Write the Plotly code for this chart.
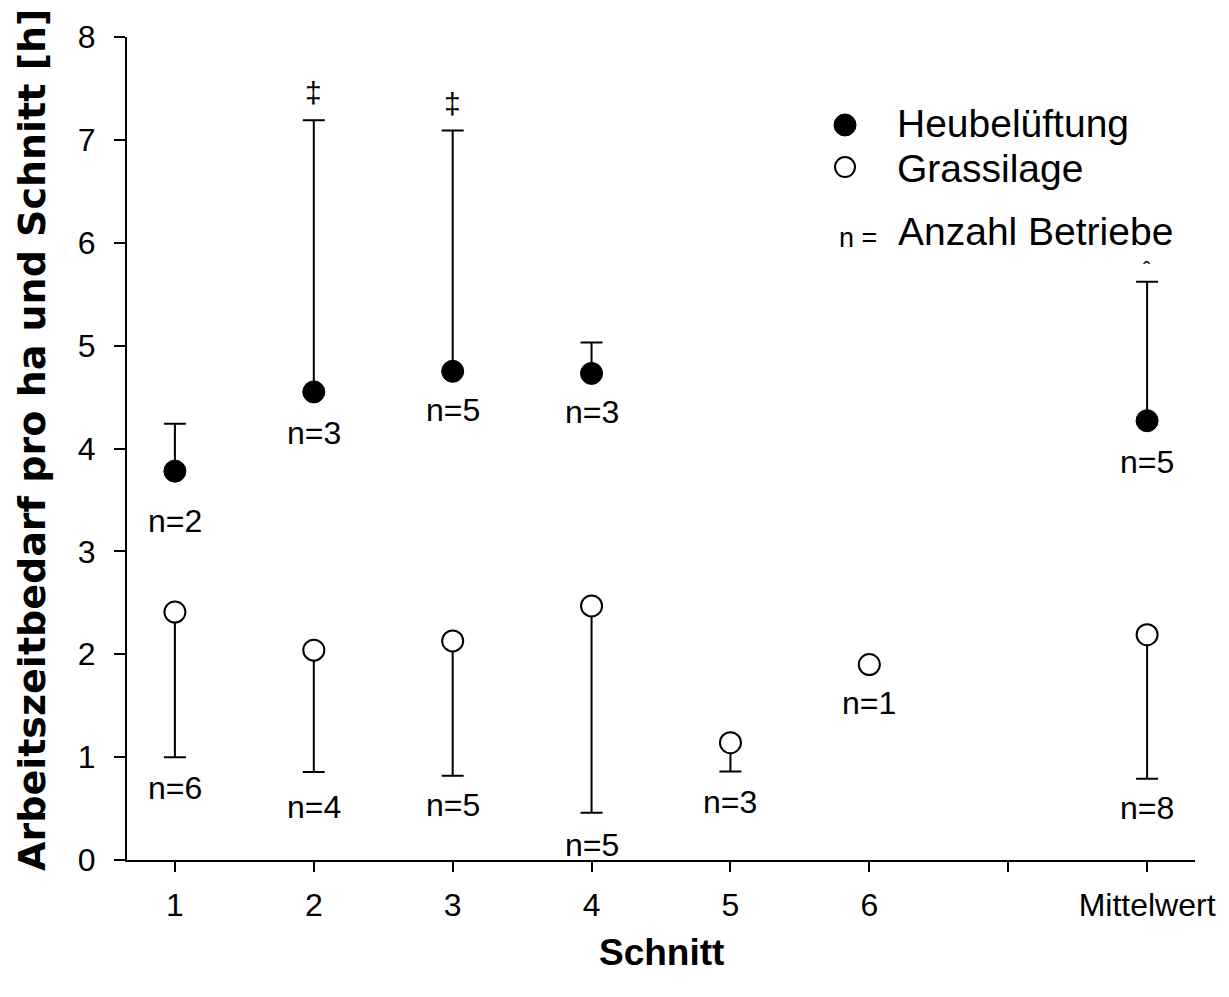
import plotly.graph_objects as go

# ---- data ----
categories = ["1", "2", "3", "4", "5", "6", " ", "Mittelwert"]

heu_x = ["1", "2", "3", "4", "Mittelwert"]
heu_mean = [3.78, 4.55, 4.75, 4.73, 4.27]
heu_err_up = [0.46, 2.64, 2.34, 0.30, 1.35]
heu_n = ["n=2", "n=3", "n=5", "n=3", "n=5"]
heu_n_y = [3.30, 4.15, 4.37, 4.35, 3.87]

gras_x = ["1", "2", "3", "4", "5", "6", "Mittelwert"]
gras_mean = [2.41, 2.04, 2.13, 2.47, 1.14, 1.90, 2.19]
gras_err_down = [1.41, 1.185, 1.31, 2.01, 0.28, 0.0, 1.40]
gras_n = ["n=6", "n=4", "n=5", "n=5", "n=3", "n=1", "n=8"]
gras_n_y = [0.70, 0.515, 0.535, 0.146, 0.567, 1.53, 0.505]

sig_x = ["2", "3", "Mittelwert"]
sig_y = [7.46, 7.35, 5.74]
sig_text = ["‡", "‡", "ˆ"]
sig_size = [30, 30, 22]

y_ticks = [0, 1, 2, 3, 4, 5, 6, 7, 8]

FONT = "Liberation Sans, Arial, sans-serif"
LBL = 32

fig = go.Figure()

fig.add_trace(go.Scatter(
    x=gras_x, y=gras_mean, mode="markers", name="Grassilage",
    marker=dict(symbol="circle", size=21, color="white",
                line=dict(color="black", width=2)),
    error_y=dict(type="data", symmetric=False,
                 array=[0] * len(gras_mean), arrayminus=gras_err_down,
                 color="black", thickness=2, width=11),
    showlegend=False,
))

fig.add_trace(go.Scatter(
    x=heu_x, y=heu_mean, mode="markers", name="Heubelüftung",
    marker=dict(symbol="circle", size=22, color="black",
                line=dict(color="black", width=1)),
    error_y=dict(type="data", symmetric=False,
                 array=heu_err_up, arrayminus=[0] * len(heu_mean),
                 color="black", thickness=2, width=11),
    showlegend=False,
))


def cx(c):
    return categories.index(c)


annotations = []
for xv, yv, t in zip(heu_x, heu_n_y, heu_n):
    annotations.append(dict(x=cx(xv), y=yv, xref="x", yref="y", text=t,
                            showarrow=False, font=dict(size=LBL, color="black", family=FONT)))
for xv, yv, t in zip(gras_x, gras_n_y, gras_n):
    annotations.append(dict(x=cx(xv), y=yv, xref="x", yref="y", text=t,
                            showarrow=False, font=dict(size=LBL, color="black", family=FONT)))
for xv, yv, t, s in zip(sig_x, sig_y, sig_text, sig_size):
    annotations.append(dict(x=cx(xv), y=yv, xref="x", yref="y", text=t,
                            showarrow=False, font=dict(size=s, color="black", family=FONT)))

# legend drawn manually
annotations += [
    dict(x=0.7191, y=0.8955, xref="paper", yref="paper", text="Heubelüftung",
         xanchor="left", yanchor="middle", showarrow=False,
         font=dict(size=39, color="black", family=FONT)),
    dict(x=0.7191, y=0.8408, xref="paper", yref="paper", text="Grassilage",
         xanchor="left", yanchor="middle", showarrow=False,
         font=dict(size=39, color="black", family=FONT)),
    dict(x=0.6845, y=0.756, xref="paper", yref="paper", text="n =",
         xanchor="center", yanchor="middle", showarrow=False,
         font=dict(size=27, color="black", family=FONT)),
    dict(x=0.7200, y=0.764, xref="paper", yref="paper", text="Anzahl Betriebe",
         xanchor="left", yanchor="middle", showarrow=False,
         font=dict(size=39, color="black", family=FONT)),
    # axis titles
    dict(x=-0.089, y=0.5103, xref="paper", yref="paper",
         text="Arbeitszeitbedarf pro ha und Schnitt [h]", textangle=-90,
         xanchor="center", yanchor="middle", showarrow=False,
         font=dict(size=38, color="black", family="DejaVu Sans", weight="bold")),
    dict(x=0.5, y=-0.1118, xref="paper", yref="paper", text="Schnitt",
         xanchor="center", yanchor="middle", showarrow=False,
         font=dict(size=37, color="black", family=FONT, weight="bold")),
]

shapes = [
    dict(type="circle", xref="paper", yref="paper", xsizemode="pixel", ysizemode="pixel",
         xanchor=0.6723, yanchor=0.8931, x0=-11, x1=11, y0=-11, y1=11,
         fillcolor="black", line=dict(color="black", width=1)),
    dict(type="circle", xref="paper", yref="paper", xsizemode="pixel", ysizemode="pixel",
         xanchor=0.6723, yanchor=0.842, x0=-10, x1=10, y0=-10, y1=10,
         fillcolor="white", line=dict(color="black", width=2)),
]

fig.update_layout(
    width=1229, height=997,
    margin=dict(l=127, r=34, t=37, b=137, pad=0),
    paper_bgcolor="white", plot_bgcolor="white",
    font=dict(family=FONT, color="black", size=LBL),
    annotations=annotations, shapes=shapes,
    showlegend=False,
)

fig.update_xaxes(
    type="category", categoryorder="array", categoryarray=categories,
    range=[-0.345, 7.345],
    showline=True, linecolor="black", linewidth=2,
    ticks="outside", ticklen=10, tickwidth=2, tickcolor="black",
    showgrid=False, zeroline=False,
    tickfont=dict(size=LBL, family=FONT, color="black"),
    ticklabelstandoff=6,
)
fig.update_yaxes(
    range=[0, 8], tickvals=y_ticks,
    showline=True, linecolor="black", linewidth=2,
    ticks="outside", ticklen=11, tickwidth=2, tickcolor="black",
    showgrid=False, zeroline=False,
    tickfont=dict(size=LBL, family=FONT, color="black"),
    ticklabelstandoff=12,
)

fig.write_html("out.html")
